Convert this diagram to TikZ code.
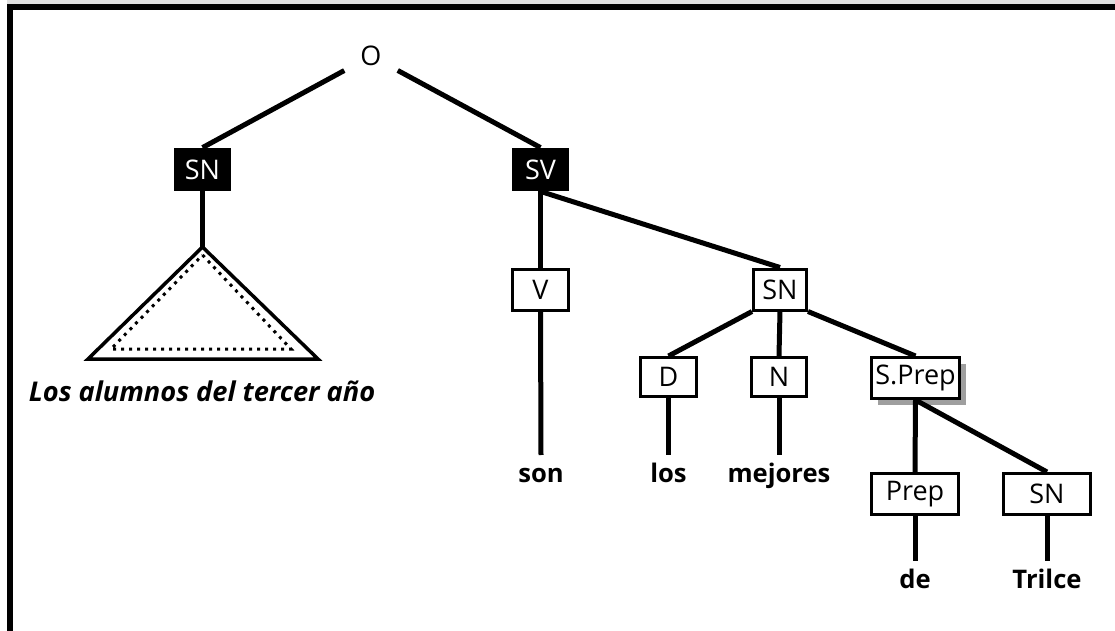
\documentclass[tikz,border=0pt]{standalone}
\usepackage{fontspec}
\setmainfont{Open Sans}
\usetikzlibrary{shadows}

\begin{document}
\begin{tikzpicture}[line cap=butt,line join=miter,x=0.5pt,y=-0.5pt,
		blk/.style={fill=black,text=white,inner sep=0pt,minimum width=28.5pt,minimum height=21.5pt,font=\fontsize{13.5}{16}\selectfont},
		wbox/.style={draw,fill=white,line width=1.5pt,inner sep=0pt,minimum height=20.5pt,font=\fontsize{13.5}{16}\selectfont},
		word/.style={anchor=north,inner xsep=0pt,inner ysep=4pt,text height=9.5pt,text depth=2.5pt,font=\fontsize{12.8}{15}\selectfont\bfseries},
		branch/.style={line width=2.5pt}]
			\useasboundingbox (0,0) rectangle (1115,631);
			\fill [gray!25] (7,0) rectangle (1115,4);
			\draw [line width=3pt] (10,631)-- (10,7)-- (1115,7);
			% nodos
			\node [circle,inner sep=0pt,minimum size=30pt,font=\fontsize{13.5}{16}\selectfont] (o) at (371,56) {O};
			\node [blk] (sn1) at (202.5,169.5) {SN};
			\node [blk] (sv) at (540.5,169.5) {SV};
			\node [wbox,minimum width=28pt] (v) at (540.5,289.5) {V};
			\node [wbox,minimum width=26.5pt] (sn2) at (780,289.5) {SN};
			\node [wbox,minimum width=28pt,minimum height=19.5pt] (d) at (668.5,377) {D};
			\node [wbox,minimum width=27.5pt,minimum height=19.5pt] (n) at (779,377) {N};
			\node [wbox,minimum width=44pt,drop shadow={shadow xshift=3pt,shadow yshift=-3pt,fill=gray!75,opacity=1}] (sprep) at (915.5,378) {S.Prep};
			\node [wbox,minimum width=43.5pt] (prep) at (915,494) {Prep};
			\node [wbox,minimum width=43.5pt] (sn3) at (1047,494) {SN};
			\node [word] (son) at (541,455) {son};
			\node [word] (los) at (668.5,455) {los};
			\node [word] (mej) at (779,455) {mejores};
			\node [word] (de) at (915,561) {de};
			\node [word] (tri) at (1047,561) {Trilce};
			\node [font=\fontsize{13.6}{16}\selectfont\bfseries\itshape] (frase) at (202,391) {Los alumnos del tercer año};
			% ramas
			\draw [branch] (o)-- (sn1.north);
			\draw [branch] (o)-- (sv.north);
			\draw [branch] (sn1.south)-- (202.5,247);
			\draw [branch] (sv.south)-- (v.north);
			\draw [branch] (sv.south)-- (sn2.north);
			\draw [branch] (sn2.south west)-- (d.north);
			\draw [branch] (sn2.south)-- (n.north);
			\draw [branch] (sn2.south east)-- (sprep.north);
			\draw [branch] (sprep.south)-- (prep.north);
			\draw [branch] (sprep.south)-- (sn3.north);
			\draw [branch] (v.south)-- (son.north);
			\draw [branch] (d.south)-- (los.north);
			\draw [branch] (n.south)-- (mej.north);
			\draw [branch] (prep.south)-- (de.north);
			\draw [branch] (sn3.south)-- (tri.north);
			% triangulo
			\draw [line width=1.75pt] (202.5,247)-- (318,359)-- (88,359)-- cycle;
			\draw [line width=1.5pt,dash pattern=on 1.5pt off 2.5pt] (202.5,255)-- (291,349)-- (111,349)-- cycle;
		\end{tikzpicture}
\end{document}
